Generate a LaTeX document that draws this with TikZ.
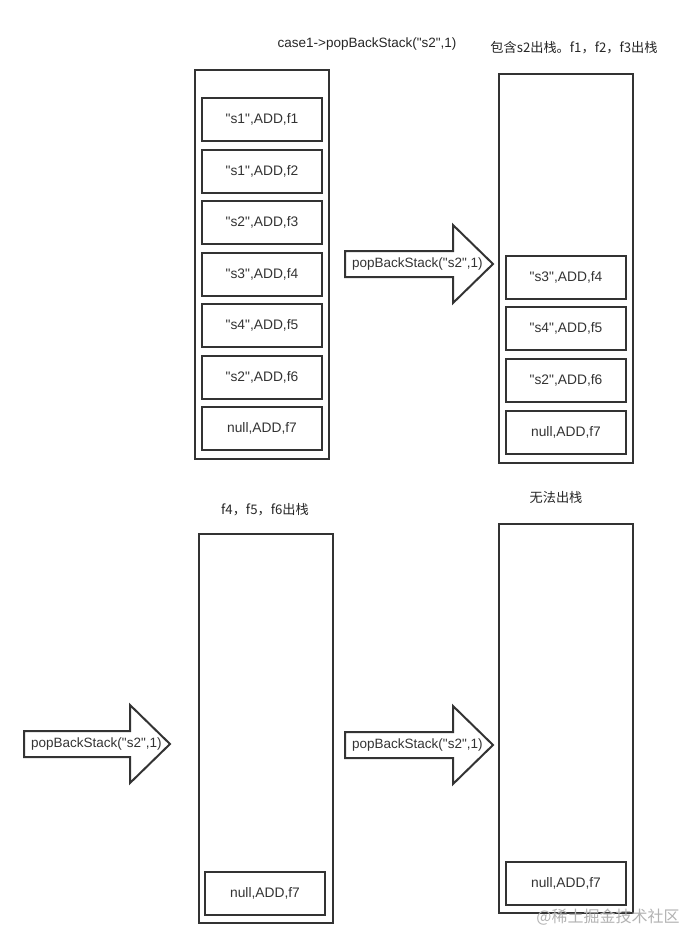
\documentclass[tikz,border=0pt]{standalone}
\usepackage{fontspec}
\newfontfamily\latin{Liberation Sans}
\newfontfamily\cjk{Noto Sans CJK SC}
\tikzset{
  stackbox/.style={draw=black!80,line width=2pt,minimum width=134pt,anchor=north west,inner sep=0pt},
  entry/.style={draw=black!80,line width=2pt,minimum width=120pt,minimum height=43pt,
    anchor=north west,inner sep=0pt,font=\latin\fontsize{13.8}{16}\selectfont,text=black!80},
  caption/.style={font=\latin\fontsize{13.5}{16}\selectfont,text=black!85},
  cjkcaption/.style={font=\cjk\fontsize{13.2}{16}\selectfont,text=black!85},
  arrowtext/.style={anchor=west,inner sep=0pt,font=\latin\fontsize{13.5}{16}\selectfont,text=black!80},
}
% block arrow: left x, centre y, head offset
\newcommand{\popArrow}[3]{
  \draw[line width=2pt,draw=black!80,line join=miter]
    (#1,#2-13) -- (#1+#3,#2-13) -- (#1+#3,#2-39) -- (#1+#3+40,#2)
    -- (#1+#3,#2+39) -- (#1+#3,#2+13) -- (#1,#2+13) -- cycle;
}
\begin{document}
\begin{tikzpicture}[x=1pt,y=-1pt]
\useasboundingbox (0,0) rectangle (689,947);
% captions
\node[caption] (capA) at (367,44) {case1->popBackStack("s2",1)};
\node[cjkcaption] (capB) at (574,48) {包含s2出栈。f1，f2，f3出栈};
\node[cjkcaption] (capC) at (265,510) {f4，f5，f6出栈};
\node[cjkcaption] (capD) at (556,497) {无法出栈};
% first stack
\node[stackbox,minimum height=389pt] (stackA) at (194,69) {};
\node[entry] (a1) at (201,97) {"s1",ADD,f1};
\node[entry] (a2) at (201,148.5) {"s1",ADD,f2};
\node[entry] (a3) at (201,200) {"s2",ADD,f3};
\node[entry] (a4) at (201,251.5) {"s3",ADD,f4};
\node[entry] (a5) at (201,303) {"s4",ADD,f5};
\node[entry] (a6) at (201,354.5) {"s2",ADD,f6};
\node[entry] (a7) at (201,406) {null,ADD,f7};
% second stack
\node[stackbox,minimum height=389pt] (stackB) at (498,73) {};
\node[entry] (b4) at (505,255) {"s3",ADD,f4};
\node[entry] (b5) at (505,306) {"s4",ADD,f5};
\node[entry] (b6) at (505,357.5) {"s2",ADD,f6};
\node[entry] (b7) at (505,410) {null,ADD,f7};
% third stack
\node[stackbox,minimum height=389pt] (stackC) at (198,533) {};
\node[entry] (c7) at (204,871) {null,ADD,f7};
% fourth stack
\node[stackbox,minimum height=389pt] (stackD) at (498,523) {};
\node[entry] (d7) at (505,861) {null,ADD,f7};
% arrows
\popArrow{345}{264}{108}
\node[arrowtext] (popA) at (352,264) {popBackStack("s2",1)};
\popArrow{24}{744}{106}
\node[arrowtext] (popB) at (31,744) {popBackStack("s2",1)};
\popArrow{345}{745}{108}
\node[arrowtext] (popC) at (352,745) {popBackStack("s2",1)};
% watermark
\node[font=\cjk\fontsize{16}{18}\selectfont,text=black!30] (mark) at (608,917) {@稀土掘金技术社区};
\end{tikzpicture}
\end{document}
